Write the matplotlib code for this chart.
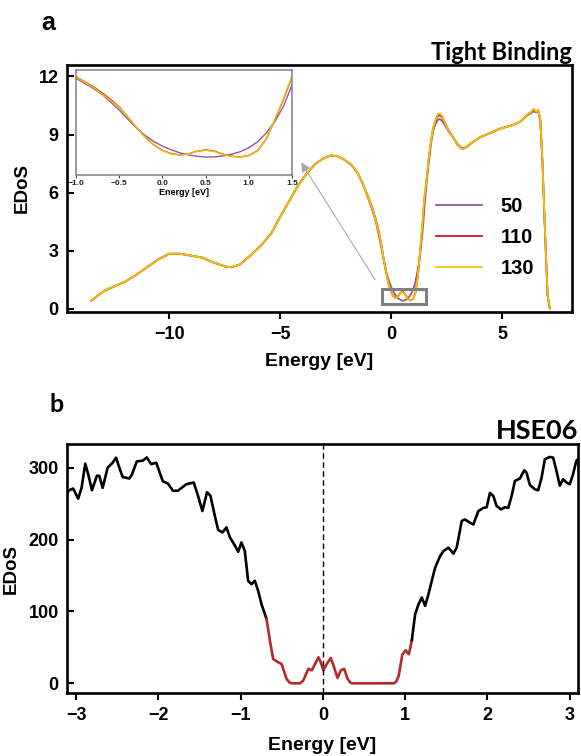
import matplotlib
matplotlib.use('Agg')
import matplotlib.pyplot as plt
import numpy as np
from matplotlib.patches import Rectangle

plt.rcParams['font.family'] = ['Liberation Sans', 'DejaVu Sans']
plt.rcParams['font.weight'] = 'bold'
plt.rcParams['axes.unicode_minus'] = True

# ---------------- Panel a: Tight Binding EDoS ----------------
energy_tb = [
    -13.5, -13.2, -12.9, -12.5, -12.0, -11.5, -11.0, -10.5, -10.0, -9.5,
    -9.0, -8.5, -8.0, -7.5, -7.2, -6.8, -6.3, -5.8, -5.4, -5.0,
    -4.6, -4.2, -3.8, -3.4, -3.0, -2.7, -2.4, -2.1, -1.8, -1.5, -1.25,
    -1.0, -0.9, -0.8, -0.7, -0.6, -0.5, -0.4, -0.3, -0.2, -0.1,
    0.0, 0.1, 0.2, 0.3, 0.4, 0.5, 0.6, 0.7, 0.8, 0.9,
    1.0, 1.1, 1.2, 1.3, 1.4, 1.5,
    1.6, 1.7, 1.8, 1.9, 2.0, 2.1, 2.2, 2.3, 2.45, 2.6, 2.8, 3.0, 3.2, 3.4,
    3.6, 3.8, 4.0, 4.3, 4.6, 4.9, 5.2, 5.5, 5.8, 6.0, 6.15, 6.3, 6.42,
    6.52, 6.63, 6.72, 6.82, 6.93, 7.05, 7.15]

dos_low = [0.43, 0.7, 0.95, 1.15, 1.4, 1.75, 2.15, 2.55, 2.85, 2.85,
           2.75, 2.65, 2.4, 2.2, 2.15, 2.3, 2.8, 3.35, 3.9, 4.75,
           5.55, 6.35, 7.0, 7.5, 7.8, 7.92, 7.88, 7.7, 7.45, 7.0, 6.4]

dos_50 = dos_low + [
    5.60, 5.28, 4.94, 4.55, 4.05, 3.52, 2.92, 2.34, 1.85, 1.45,
    1.15, 0.91, 0.71, 0.57, 0.48, 0.43, 0.44, 0.50, 0.61, 0.78,
    1.04, 1.42, 2.00, 2.75, 3.75, 5.16,
    6.5, 7.6, 8.55, 9.2, 9.55, 9.75, 9.8, 9.7, 9.45, 9.15, 8.85, 8.5, 8.3, 8.35,
    8.55, 8.7, 8.85, 9.0, 9.15, 9.3, 9.4, 9.5, 9.65, 9.85, 10.0, 10.1, 10.2,
    10.15, 10.2, 9.7, 7.5, 4.05, 0.7, 0.03]

dos_110 = dos_low + [
    5.70, 5.38, 5.05, 4.65, 4.22, 3.72, 3.06, 2.36, 1.74, 1.23,
    0.87, 0.66, 0.57, 0.63, 0.81, 0.90, 0.82, 0.62, 0.48, 0.44,
    0.53, 0.84, 1.60, 2.85, 4.20, 5.70,
    6.7, 7.8, 8.7, 9.35, 9.7, 9.95, 10.0, 9.9, 9.55, 9.2, 8.85, 8.45, 8.25, 8.35,
    8.55, 8.7, 8.85, 9.0, 9.15, 9.3, 9.4, 9.5, 9.65, 9.85, 10.05, 10.15, 10.3,
    10.2, 10.25, 9.8, 7.6, 4.15, 0.72, 0.03]

dos_130 = dos_low + [
    5.67, 5.35, 5.01, 4.58, 4.15, 3.69, 3.05, 2.36, 1.75, 1.22,
    0.85, 0.64, 0.56, 0.62, 0.80, 0.87, 0.80, 0.60, 0.47, 0.43,
    0.52, 0.82, 1.62, 2.88, 4.25, 5.75,
    6.7, 7.8, 8.7, 9.35, 9.75, 10.05, 10.1, 9.95, 9.55, 9.2, 8.85, 8.45, 8.25, 8.35,
    8.55, 8.7, 8.85, 9.0, 9.15, 9.3, 9.4, 9.5, 9.65, 9.85, 10.05, 10.15, 10.33,
    10.2, 10.25, 9.8, 7.6, 4.15, 0.72, 0.03]

series_labels = ['50', '110', '130']
series_colors = ['#9a55a0', '#c8202a', '#f0c400']

# ---------------- Panel b: HSE06 EDoS ----------------
energy_hse = [
    -3.11, -3.083, -3.035, -2.974, -2.933, -2.888, -2.852, -2.807, -2.746, -2.717,
    -2.677, -2.616, -2.555, -2.514, -2.474, -2.433, -2.352, -2.319, -2.262, -2.189,
    -2.14, -2.087, -2.026, -1.945, -1.884, -1.823, -1.762, -1.66, -1.57, -1.518,
    -1.465, -1.408, -1.367, -1.314, -1.273, -1.22, -1.172, -1.131, -1.07, -1.03,
    -0.99, -0.949, -0.909, -0.868, -0.827, -0.787, -0.746, -0.685,
    -0.644, -0.604, -0.543, -0.502, -0.441, -0.41, -0.38, -0.33, -0.278, -0.238,
    -0.177, -0.136, -0.095, -0.054, -0.026, 0.006, 0.047, 0.096, 0.136, 0.177,
    0.218, 0.258, 0.299, 0.33, 0.352, 0.86, 0.89, 0.92, 0.965, 1.005, 1.045, 1.081,
    1.121, 1.162, 1.202, 1.242, 1.283, 1.323, 1.364, 1.424, 1.465, 1.525,
    1.586, 1.626, 1.687, 1.727, 1.788, 1.828, 1.889, 1.949, 1.99, 2.03,
    2.071, 2.111, 2.164, 2.212, 2.253, 2.293, 2.333, 2.394, 2.446, 2.475,
    2.515, 2.576, 2.616, 2.657, 2.697, 2.758, 2.798, 2.838, 2.879, 2.919,
    2.96, 3.0, 3.04, 3.08, 3.11]
dos_hse = [
    265, 268.6, 271, 257, 272, 305.6, 290.7, 268.6, 289, 288.6,
    272, 300, 307, 314, 300, 287, 285, 291, 308.8, 309.8,
    314.3, 305, 307, 281, 278, 268, 268, 277, 279.5, 261,
    239.7, 265.9, 261, 233.3, 213.4, 210, 217, 203.3, 191.7, 183,
    196, 184, 142.6, 138, 142.6, 128.7, 110, 89.4,
    59.2, 33.8, 29.2, 26.9, 6.1, 1.5, 0, 0, 0, 4,
    20.2, 18, 27, 36.2, 29.3, 18, 27, 35.3, 22.3, 7.5,
    18, 20.2, 6.3, 1.5, 0, 0, 2, 10, 40, 46, 40.5, 60.3,
    96.3, 110, 119.4, 107.8, 124, 142.6, 161, 177, 184, 188.8,
    180.5, 188.8, 225.9, 228, 223.5, 221, 239.7, 244, 245, 265,
    260.6, 246.7, 242, 245, 244.3, 260.6, 281.5, 285, 296.3, 293,
    276, 270, 268.6, 286, 311.8, 315, 314, 295.8, 275, 284,
    279.5, 277, 291, 309.6, 313]
gap_edges = (-0.685, 1.081)

W, H = 581, 756
fig = plt.figure(figsize=(W / 100, H / 100), dpi=100)


def rect(l, t, r, b):
    return [l / W, 1 - b / H, (r - l) / W, (b - t) / H]


axa = fig.add_axes(rect(67, 65, 572, 311.7))
axb = fig.add_axes(rect(67, 444, 578, 693.3))
axi = fig.add_axes(rect(76, 70, 292, 175))

TICK_FS = 13

# ---- panel a
for vals, lab, col in zip([dos_50, dos_110, dos_130], series_labels, series_colors):
    axa.plot(energy_tb, vals, color=col, lw=1.3, label=lab, solid_joinstyle='round')
axa.set_xlim(-14.6, 8.15)
axa.set_ylim(-0.14, 12.59)
axa.set_xticks([-10, -5, 0, 5])
axa.set_yticks([0, 3, 6, 9, 12])
axa.tick_params(axis='y', direction='in', length=5, width=1.5, pad=6, labelsize=TICK_FS)
axa.tick_params(axis='x', direction='out', length=5, width=1.5, pad=5, labelsize=TICK_FS)
for s in axa.spines.values():
    s.set_linewidth(1.9)
axa.set_xlabel('Energy [eV]', fontsize=14, weight='bold')
axa.xaxis.label.set_va('baseline')
axa.xaxis.set_label_coords(0.5, (311.7 - 365.5) / 246.7)
axa.set_ylabel('EDoS', fontsize=13.5, weight='bold')
axa.yaxis.set_label_coords((31 - 67) / 505, 0.5)

leg = axa.legend(loc='center left', bbox_to_anchor=((436 - 67) / 505, (311.7 - 237.7) / 246.7),
                 frameon=False, borderpad=0, borderaxespad=0, handlelength=2.3,
                 handletextpad=0.9, labelspacing=0.6,
                 prop=dict(weight='bold', size=14.5))

axa.add_patch(Rectangle((-0.41, 0.26), 2.0, 0.79, fill=False, ec='#808080', lw=2.2, zorder=5))
axa.annotate('', xy=(-4.12, 7.69), xytext=(-0.65, 1.39),
             arrowprops=dict(arrowstyle='-|>', color='#a8a8a8', lw=0.8, mutation_scale=14))

# ---- inset
for vals, col in zip([dos_50, dos_110, dos_130], series_colors):
    axi.plot(energy_tb, vals, color=col, lw=1.0, solid_joinstyle='round')
axi.set_xlim(-1.0, 1.5)
axi.set_ylim(-0.75, 6.15)
axi.set_yticks([])
axi.set_xticks([-1.0, -0.5, 0.0, 0.5, 1.0, 1.5])
axi.tick_params(axis='x', length=2, width=0.6, pad=1.5, labelsize=6, colors='#222222')
for s in axi.spines.values():
    s.set_linewidth(1.1)
    s.set_color('#808080')
axi.set_xlabel('Energy [eV]', fontsize=6.5, weight='bold', labelpad=1)

# ---- panel b
e = np.array(energy_hse)
d = np.array(dos_hse)
left = e <= gap_edges[0]
mid = (e >= gap_edges[0]) & (e <= gap_edges[1])
right = e >= gap_edges[1]
axb.plot(e[left], d[left], color='black', lw=1.9, solid_joinstyle='round')
axb.plot(e[mid], d[mid], color='#b52a2a', lw=1.9, solid_joinstyle='round')
axb.plot(e[right], d[right], color='black', lw=1.9, solid_joinstyle='round')
axb.axvline(0, color='black', lw=1.0, ls=(0, (4, 2.5)))
axb.set_xlim(-3.11, 3.10)
axb.set_ylim(-13.9, 333)
axb.set_xticks([-3, -2, -1, 0, 1, 2, 3])
axb.set_yticks([0, 100, 200, 300])
axb.tick_params(axis='y', direction='in', length=5, width=1.5, pad=6, labelsize=TICK_FS)
axb.tick_params(axis='x', direction='out', length=5, width=1.5, pad=5, labelsize=TICK_FS)
for s in axb.spines.values():
    s.set_linewidth(1.9)
axb.set_xlabel('Energy [eV]', fontsize=14, weight='bold')
axb.xaxis.label.set_va('baseline')
axb.xaxis.set_label_coords(0.5, (693.3 - 750.5) / 249.3)
axb.set_ylabel('EDoS', fontsize=13.5, weight='bold')
axb.yaxis.set_label_coords((20 - 67) / 511, 0.5)

# ---- panel texts
fig.text(48 / W, 1 - 23.5 / H, 'a', fontsize=18, weight='bold', ha='center', va='center')
fig.text(56.5 / W, 1 - 405 / H, 'b', fontsize=18, weight='bold', ha='center', va='center',
         family=['Lato', 'DejaVu Sans'])
fig.text(572 / W, 1 - 60 / H, 'Tight Binding', fontsize=17, weight='bold', ha='right',
         va='baseline', family=['Lato', 'DejaVu Sans'])
fig.text(578 / W, 1 - 439 / H, 'HSE06', fontsize=19.5, weight='bold', ha='right',
         va='baseline', family=['Lato', 'DejaVu Sans'])

fig.savefig('out.png', dpi=100)
